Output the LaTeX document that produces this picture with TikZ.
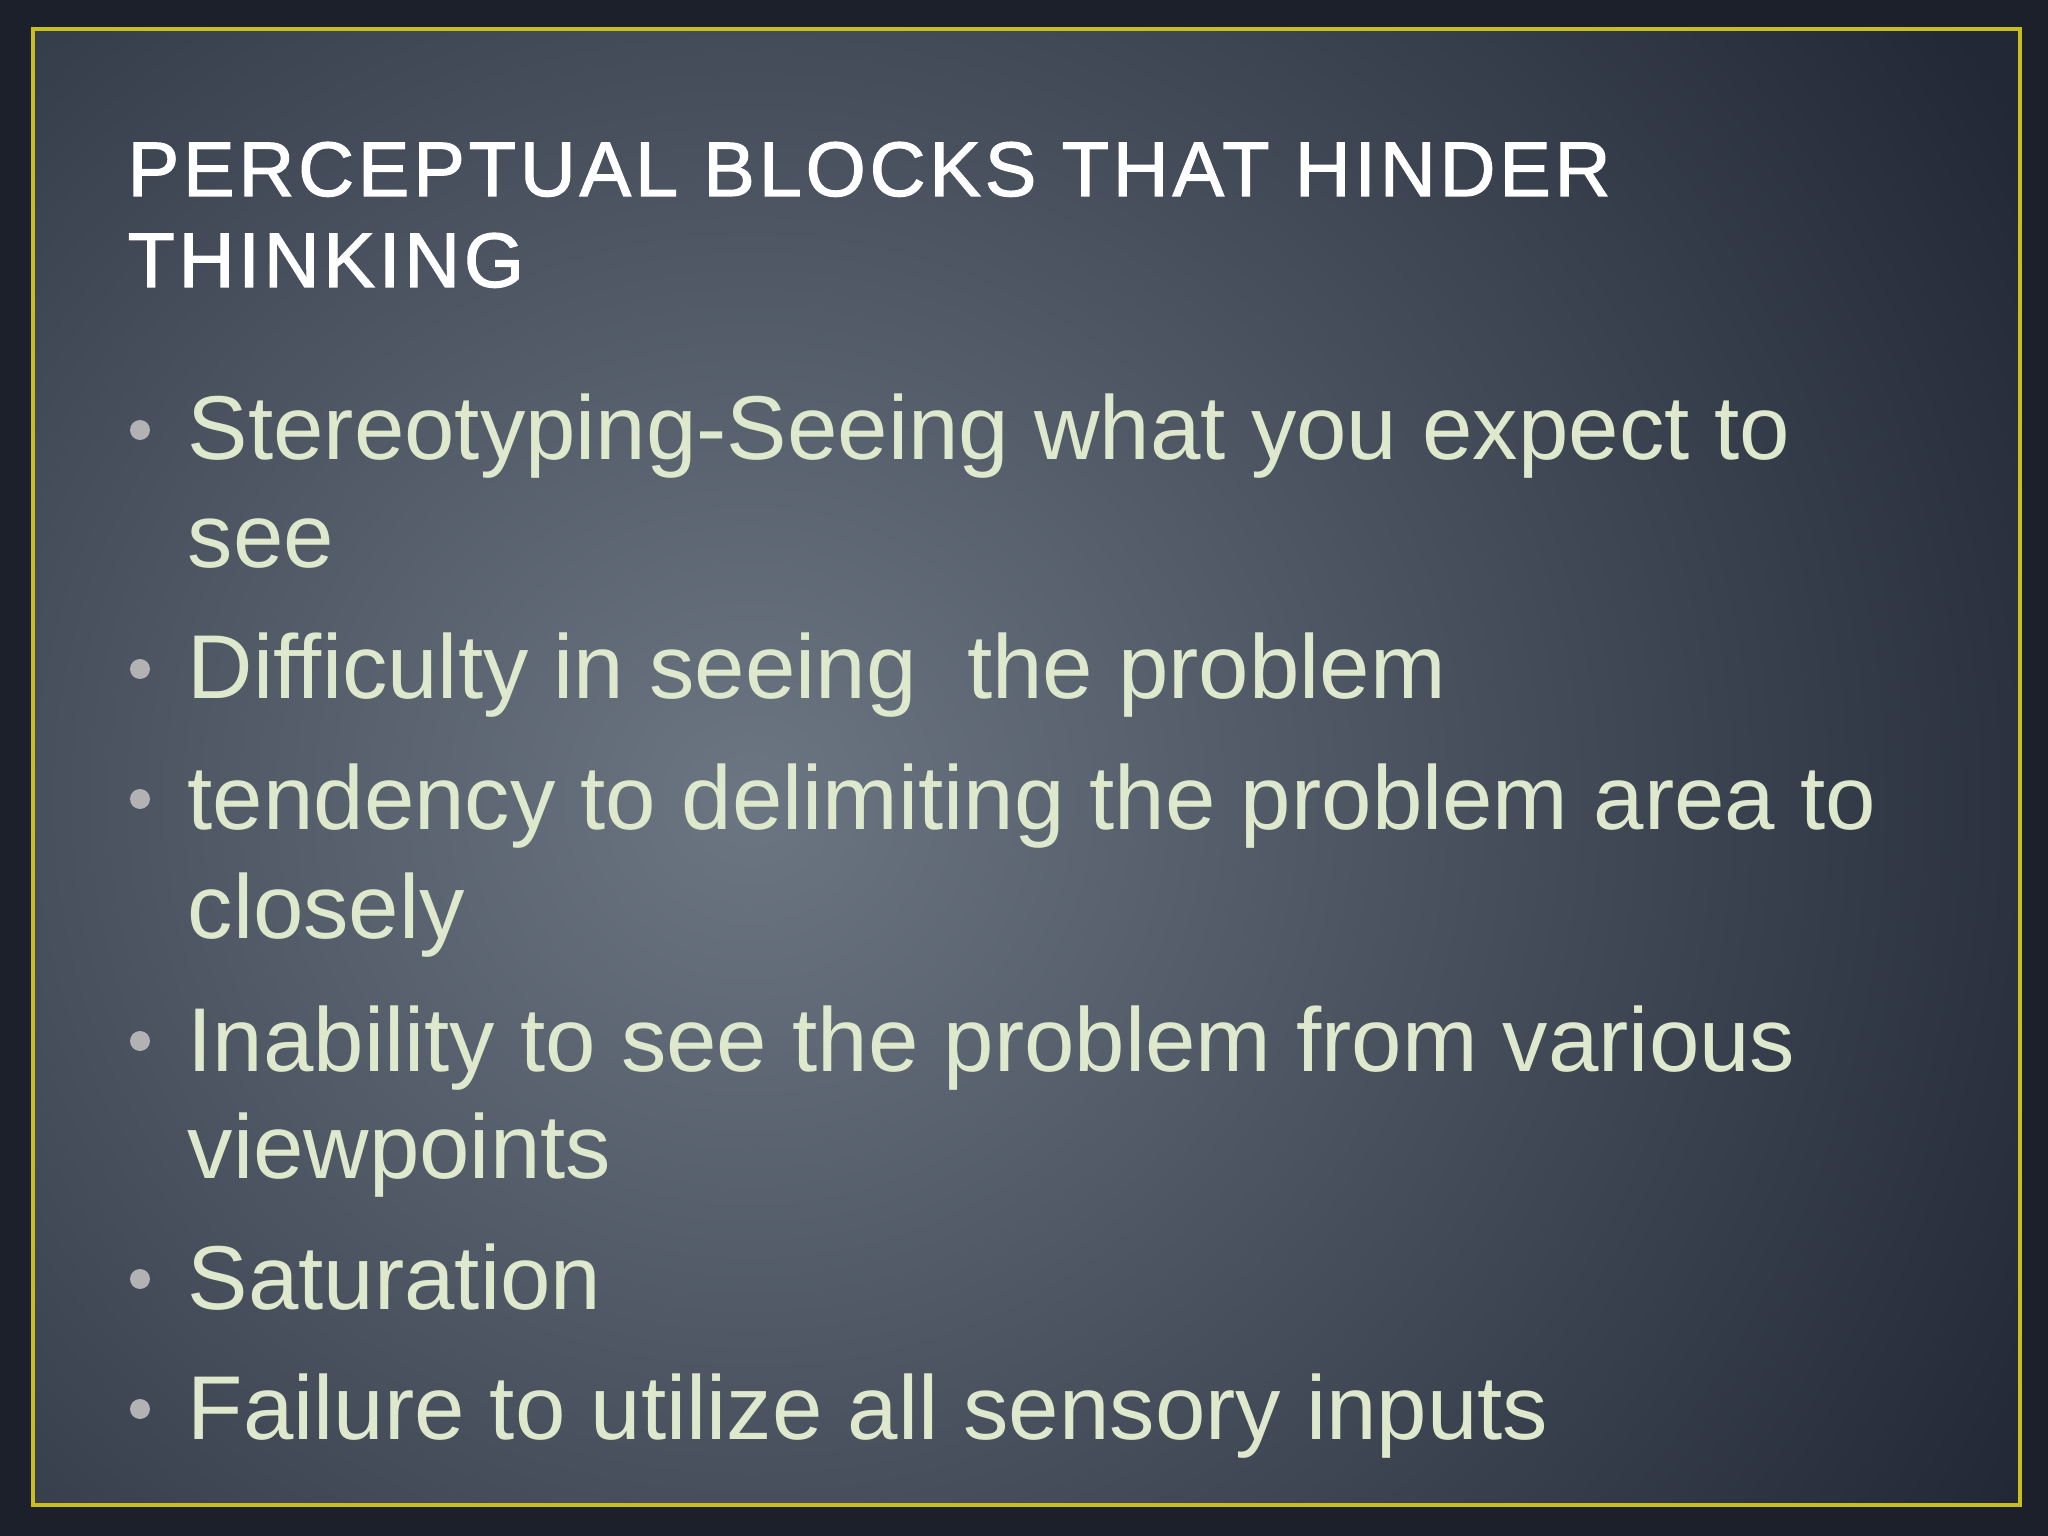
\documentclass[tikz,border=0pt]{standalone}
\usepackage{fontspec}
\setmainfont{Liberation Sans}
\newfontfamily\titlefont[LetterSpace=5,FakeBold=1.5]{Liberation Sans}
\definecolor{bgin}{RGB}{108,118,130}
\definecolor{bgout}{RGB}{34,40,54}
\definecolor{txt}{RGB}{222,232,205}
\definecolor{frame}{RGB}{200,190,30}
\begin{document}
\begin{tikzpicture}[x=1cm,y=1cm,
  item/.style={anchor=base west,text=txt,font=\fontsize{25.8}{31}\selectfont,inner sep=0},
  dot/.style={circle,fill=gray!60,inner sep=0,minimum size=0.2cm},
  ttl/.style={anchor=base west,text=white,font=\titlefont\fontsize{22}{27}\selectfont,inner sep=0}]
\useasboundingbox (0,0) rectangle (20.48,-15.36);
\fill[bgout!80!black] (0,0) rectangle (20.48,-15.36);
\begin{scope}
\clip (0.33,-0.29) rectangle (20.20,-15.05);
\shade[inner color=bgin,outer color=bgout] (-7,6) rectangle (22,-22);
\end{scope}
\draw[frame,line width=1.2pt] (0.33,-0.29) rectangle (20.20,-15.05);
\node[ttl] (t1) at (1.27,-1.96) {PERCEPTUAL BLOCKS THAT HINDER};
\node[ttl] (t2) at (1.27,-2.87) {THINKING};
\foreach \y/\t [count=\i] in {4.60/{Stereotyping-Seeing what you expect to},
  5.68/{see},6.99/{Difficulty in seeing\ \ the problem},
  8.29/{tendency to delimiting the problem area to},9.38/{closely},
  10.71/{Inability to see the problem from various},11.78/{viewpoints},
  13.09/{Saturation},14.39/{Failure to utilize all sensory inputs}}
  {\node[item] (l\i) at (1.87,-\y) {\t};}
\foreach \y [count=\i] in {4.60,6.99,8.29,10.71,13.09,14.39}
  {\node[dot] (b\i) at (1.40,-\y+0.3) {};}
\end{tikzpicture}
\end{document}
